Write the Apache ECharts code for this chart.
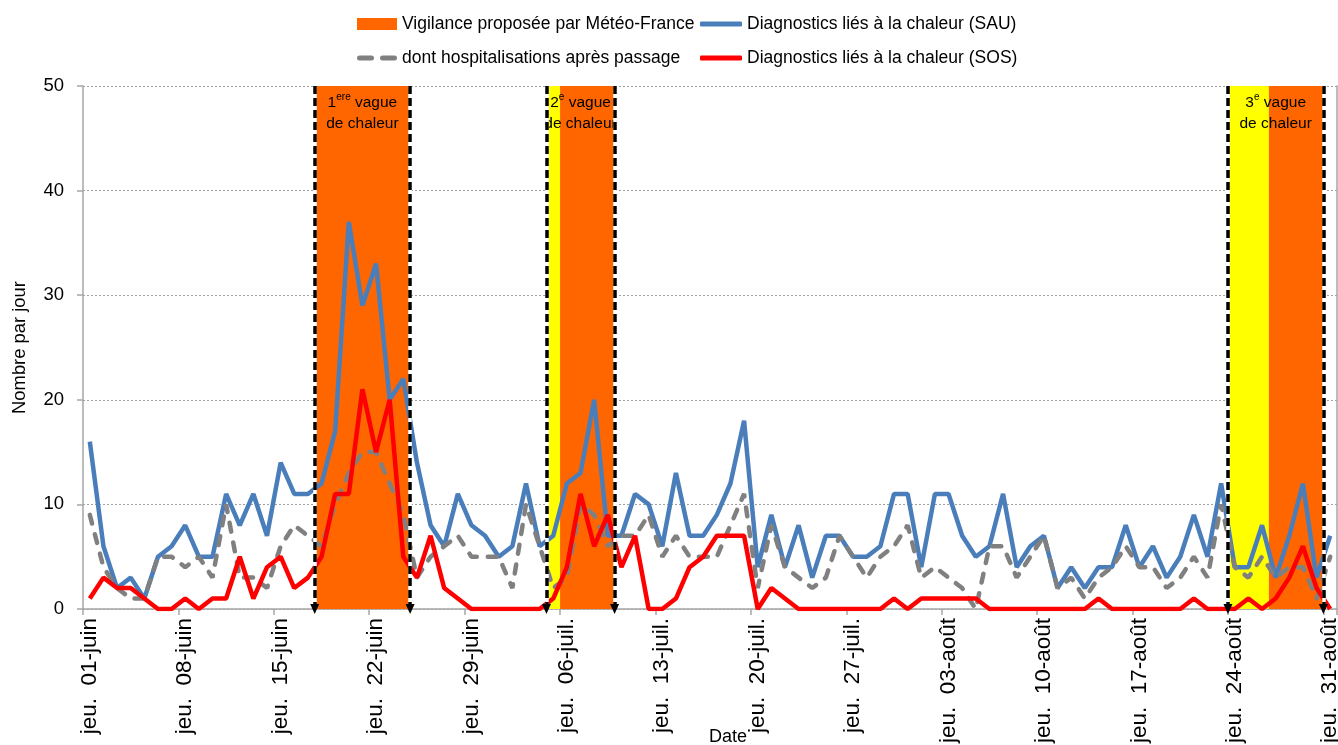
<!DOCTYPE html>
<html>
<head>
<meta charset="utf-8">
<script src="https://cdn.jsdelivr.net/npm/echarts@6/dist/echarts.min.js"></script>
<style>
html,body{margin:0;padding:0;background:#fff;}
#chart{width:1338px;height:745px;}
</style>
</head>
<body>
<div id="chart"></div>
<script>
// ---- data ----
const months = [
  {name: 'juin', days: 30},
  {name: 'juil.', days: 31},
  {name: 'août', days: 31}
];
const weekdays = ['jeu.', 'ven.', 'sam.', 'dim.', 'lun.', 'mar.', 'mer.']; // 1 June is a Thursday

const sau = [
  16, 6, 2, 3, 1, 5, 6, 8, 5, 5,
  11, 8, 11, 7, 14, 11, 11, 12, 17, 37,
  29, 33, 20, 22, 14, 8, 6, 11, 8, 7,
  5, 6, 12, 6, 7, 12, 13, 20, 7, 7,
  11, 10, 6, 13, 7, 7, 9, 12, 18, 4,
  9, 4, 8, 3, 7, 7, 5, 5, 6, 11,
  11, 4, 11, 11, 7, 5, 6, 11, 4, 6,
  7, 2, 4, 2, 4, 4, 8, 4, 6, 3,
  5, 9, 5, 12, 4, 4, 8, 3, 7, 12,
  3, 7
];
const hosp = [
  9, 4, 2, 1, 1, 5, 5, 4, 5, 3,
  10, 3, 3, 2, 6, 8, 7, 6, 10, 13,
  15, 15, 12, 9, 3, 5, 6, 7, 5, 5,
  5, 2, 10, 6, 2, 3, 10, 9, 6, 7,
  7, 9, 5, 7, 5, 5, 5, 8, 11, 2,
  8, 4, 3, 2, 3, 7, 5, 3, 5, 6,
  8, 3, 4, 3, 2, 0, 6, 6, 3, 5,
  7, 2, 3, 1, 3, 4, 6, 4, 4, 2,
  3, 5, 3, 10, 4, 3, 5, 3, 4, 4,
  1, 5
];
const sos = [
  1, 3, 2, 2, 1, 0, 0, 1, 0, 1,
  1, 5, 1, 4, 5, 2, 3, 5, 11, 11,
  21, 15, 20, 5, 3, 7, 2, 1, 0, 0,
  0, 0, 0, 0, 1, 4, 11, 6, 9, 4,
  7, 0, 0, 1, 4, 5, 7, 7, 7, 0,
  2, 1, 0, 0, 0, 0, 0, 0, 0, 1,
  0, 1, 1, 1, 1, 1, 0, 0, 0, 0,
  0, 0, 0, 0, 1, 0, 0, 0, 0, 0,
  0, 1, 0, 0, 0, 1, 0, 1, 3, 6,
  2, 0
];
// vigilance spans, in day-boundary units (day index start, day index end)
const orangeSpans = [[17, 24], [35, 39], [87, 91]];
const yellowSpans = [[34, 35], [84, 87]];
const waves = [
  {from: 17, to: 24, num: '1', sup: 'ere'},
  {from: 34, to: 39, num: '2', sup: 'e'},
  {from: 84, to: 91, num: '3', sup: 'e'}
];
const yTicks = {min: 0, max: 50, interval: 10};

const names = {
  vig: 'Vigilance proposée par Météo-France',
  sau: 'Diagnostics liés à la chaleur (SAU)',
  hosp: 'dont hospitalisations après passage',
  sos: 'Diagnostics liés à la chaleur (SOS)'
};

// ---- categories ----
const categories = [];
let wd = 0;
months.forEach(m => {
  for (let d = 1; d <= m.days; d++) {
    categories.push(weekdays[wd % 7] + '  ' + (d < 10 ? '0' + d : '' + d) + '-' + m.name);
    wd++;
  }
});

const SANS = "'Liberation Sans', Arial, sans-serif";
const AXIS_GRAY = '#A6A6A6';

const areaData = [];
yellowSpans.forEach(s => areaData.push([{xAxis: s[0], itemStyle: {color: '#FFFF00'}}, {xAxis: s[1]}]));
orangeSpans.forEach(s => areaData.push([{xAxis: s[0], itemStyle: {color: '#FF6600'}}, {xAxis: s[1]}]));
waves.forEach(w => areaData.push([{
  xAxis: w.from,
  itemStyle: {color: 'rgba(0,0,0,0)'},
  label: {
    show: true,
    position: 'insideTop',
    distance: 6,
    formatter: '{n|' + w.num + '}{s|' + w.sup + '}{n| vague}\n{n|de chaleur}'
  }
}, {xAxis: w.to}]));

const lineEdges = [];
waves.forEach(w => { lineEdges.push(w.from); lineEdges.push(w.to); });
const backLines = lineEdges.map(x => [{coord: [x, yTicks.max]}, {coord: [x, yTicks.min]}]);
const dashLines = lineEdges.map(x => [{coord: [x, yTicks.max]}, {coord: [x, yTicks.min]}]);

const chart = echarts.init(document.getElementById('chart'), null, {renderer: 'canvas'});

const legendText = {fontSize: 17.5, fontFamily: SANS, color: '#000'};
const dashIcon = 'path://M2.5,0H14.5A2.5,2.5 0 0 1 14.5,5H2.5A2.5,2.5 0 0 1 2.5,0Z M25.5,0H37.5A2.5,2.5 0 0 1 37.5,5H25.5A2.5,2.5 0 0 1 25.5,0Z';

chart.setOption({
  animation: false,
  backgroundColor: '#fff',
  grid: {left: 83, right: 1, top: 86, bottom: 136, containLabel: false, outerBoundsMode: 'none'},
  legend: [
    {left: 352, top: 10, itemWidth: 40, itemHeight: 12, textStyle: legendText,
     data: [{name: names.vig, icon: 'rect'}]},
    {left: 695, top: 10, itemWidth: 42, itemHeight: 5, textStyle: legendText,
     data: [{name: names.sau, icon: 'roundRect'}]},
    {left: 352, top: 44, itemWidth: 40, itemHeight: 5, textStyle: legendText,
     data: [{name: names.hosp, icon: dashIcon}]},
    {left: 695, top: 44, itemWidth: 42, itemHeight: 5, textStyle: legendText,
     data: [{name: names.sos, icon: 'roundRect'}]}
  ],
  xAxis: [
    {
      type: 'category',
      data: categories,
      boundaryGap: true,
      axisLine: {lineStyle: {color: AXIS_GRAY, width: 1.5}},
      axisTick: {show: true, interval: 6, length: 6, lineStyle: {color: AXIS_GRAY, width: 1.5}},
      axisLabel: {interval: 6, rotate: 90, fontSize: 22.5, fontFamily: SANS, color: '#000', margin: 9},
      splitLine: {show: false},
      name: 'Date',
      nameLocation: 'middle',
      nameGap: 119,
      nameMoveOverlap: false,
      nameTextStyle: {fontSize: 18, fontFamily: SANS, color: '#000', padding: [0, 0, 0, 36]}
    },
    {
      type: 'value',
      min: 0,
      max: categories.length,
      show: false
    }
  ],
  yAxis: [
    {
      type: 'value',
      min: yTicks.min,
      max: yTicks.max,
      interval: yTicks.interval,
      axisLine: {show: true, lineStyle: {color: AXIS_GRAY, width: 1.5}},
      axisTick: {show: true, length: 6, lineStyle: {color: AXIS_GRAY, width: 1.5}},
      axisLabel: {fontSize: 18.5, fontFamily: SANS, color: '#000', margin: 19},
      splitLine: {show: true, lineStyle: {color: '#A0A0A0', width: 1, type: [2, 2]}},
      name: 'Nombre par jour',
      nameLocation: 'middle',
      nameGap: 54,
      nameRotate: 90,
      nameMoveOverlap: false,
      nameTextStyle: {fontSize: 18.4, fontFamily: SANS, color: '#000'}
    },
    {
      type: 'value',
      position: 'right',
      min: yTicks.min,
      max: yTicks.max,
      interval: yTicks.interval,
      axisLine: {show: true, lineStyle: {color: AXIS_GRAY, width: 1.5}},
      axisTick: {show: false},
      axisLabel: {show: false},
      splitLine: {show: false}
    }
  ],
  series: [
    {
      name: names.vig,
      type: 'bar',
      data: [],
      itemStyle: {color: '#FF6600'}
    },
    {
      name: 'bands',
      type: 'line',
      xAxisIndex: 1,
      yAxisIndex: 0,
      data: [],
      z: 1,
      markArea: {
        silent: true,
        label: {
          color: '#000',
          rich: {
            n: {fontSize: 15.5, fontFamily: SANS, color: '#000', lineHeight: 21},
            s: {fontSize: 10, fontFamily: SANS, color: '#000', lineHeight: 11, verticalAlign: 'top'}
          }
        },
        data: areaData
      }
    },
    {
      name: names.sau,
      type: 'line',
      data: sau,
      symbol: 'none',
      z: 3,
      itemStyle: {color: '#4A7EBB'},
      lineStyle: {color: '#4A7EBB', width: 4.5}
    },
    {
      name: names.hosp,
      type: 'line',
      data: hosp,
      symbol: 'none',
      z: 3,
      itemStyle: {color: '#808080'},
      lineStyle: {color: '#808080', width: 4.5, type: [9, 11], cap: 'round'}
    },
    {
      name: names.sos,
      type: 'line',
      data: sos,
      symbol: 'none',
      z: 3,
      itemStyle: {color: '#FF0000'},
      lineStyle: {color: '#FF0000', width: 4.5}
    },
    {
      name: 'edgesBack',
      type: 'line',
      xAxisIndex: 1,
      data: [],
      z: 8,
      markLine: {
        silent: true,
        symbol: ['none', 'none'],
        label: {show: false},
        lineStyle: {color: '#FFFFFF', width: 3.5, type: 'solid'},
        data: backLines
      }
    },
    {
      name: 'edges',
      type: 'line',
      xAxisIndex: 1,
      data: [],
      z: 9,
      markLine: {
        silent: true,
        symbol: ['none', 'triangle'],
        symbolSize: [9, 10],
        label: {show: false},
        itemStyle: {color: '#000'},
        lineStyle: {color: '#000000', width: 3.5, type: [8, 4]},
        data: dashLines
      }
    }
  ]
});
</script>
</body>
</html>
